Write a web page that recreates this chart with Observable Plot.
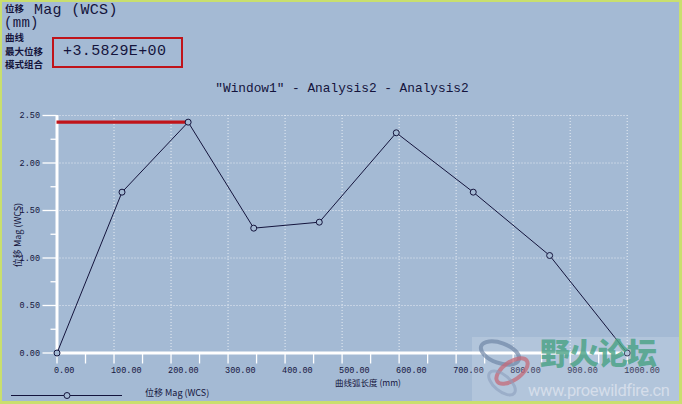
<!DOCTYPE html>
<html>
<head>
<meta charset="utf-8">
<script src="https://cdn.jsdelivr.net/npm/d3@7"></script>
<script src="https://cdn.jsdelivr.net/npm/@observablehq/plot@0.6"></script>
<style>
  html, body { margin: 0; padding: 0; background: #a4bad4; }
  #wrap { position: relative; width: 682px; height: 404px; overflow: hidden; background: #a4bad4; }
  #frame { position: absolute; left: 0; top: 0; width: 682px; height: 404px; box-sizing: border-box;
           border-top: 2px solid #c9df6e; border-left: 2px solid #c9df6e; border-right: 3px solid #c9df6e; border-bottom: 3px solid #c9df6e; pointer-events: none; }
  .t { position: absolute; color: #14143c; white-space: nowrap; line-height: 1; }
  .mono { font-family: "Liberation Mono", "DejaVu Sans Mono", monospace; }
  .cjk { font-family: "Noto Sans CJK SC", sans-serif; font-weight: 700; }
  #chart { position: absolute; left: 0; top: 0; }
</style>
</head>
<body>
<div id="wrap">
  <div id="chart"></div>
</div>
<script>
// ---- data ----
const arcLength = [0, 114, 230, 345, 460, 595, 730, 864, 1000];          // 曲线弧长度 (mm)
const displacement = [0, 1.693, 2.43, 1.314, 1.377, 2.318, 1.693, 1.026, 0]; // 位移 Mag (WCS)
const xTicks = [0, 100, 200, 300, 400, 500, 600, 700, 800, 900, 1000];
const xMinorTicks = [50, 150, 250, 350, 450, 550, 650, 750, 850, 950];
const yTicks = [0, 0.5, 1.0, 1.5, 2.0, 2.5];
const yMinorTicks = [0.25, 0.75, 1.25, 1.75, 2.25];
const chartTitle = '"Window1" - Analysis2 - Analysis2';
const yLabel = "位移 Mag (WCS)";
const xLabel = "曲线弧长度 (mm)";
const legendLabel = "位移 Mag (WCS)";
const headerQuantity = "位移";
const headerSeries = "Mag (WCS)";
const headerUnit = "(mm)";
const headerLines = ["曲线", "最大位移", "模式组合"];
const maxDisplacementText = "+3.5829E+00";

const data = arcLength.map((x, i) => ({x, y: displacement[i]}));
const maxPoint = data.reduce((a, b) => (b.y > a.y ? b : a));

const ink = "#14143c";
const mono = '"Liberation Mono", "DejaVu Sans Mono", monospace';

const chart = Plot.plot({
  width: 682,
  height: 404,
  marginLeft: 56.5,
  marginRight: 55.3,
  marginTop: 115,
  marginBottom: 51.5,
  style: { background: "transparent", fontFamily: mono, fontSize: "8.5px", color: ink, overflow: "visible" },
  x: { domain: [0, 1000] },
  y: { domain: [0, 2.5] },
  marks: [
    Plot.gridX(xTicks.slice(1), { stroke: "white", strokeOpacity: 0.75, strokeDasharray: "1,2" }),
    Plot.gridY(yTicks.slice(1), { stroke: "white", strokeOpacity: 0.75, strokeDasharray: "1,2" }),
    Plot.axisX(xTicks.concat(xMinorTicks), { tickSize: 11, stroke: "white", strokeWidth: 1.3, text: null, label: null }),
    Plot.axisX(xTicks, { tickSize: 0, tickPadding: 14, dx: -3, textAnchor: "start",
      tickFormat: d3.format(".2f"), fill: ink, label: null, fontSize: 8.5 }),
    Plot.axisY(yTicks, { tickSize: 14, stroke: "white", strokeWidth: 1.3, tickPadding: 3,
      tickFormat: d3.format(".2f"), fill: ink, label: null, fontSize: 8.5 }),
    Plot.axisY(yMinorTicks, { tickSize: 6, stroke: "white", strokeWidth: 1.3, text: null, label: null }),
    Plot.ruleY([0], { stroke: "white", strokeWidth: 3 }),
    Plot.ruleX([0], { stroke: "white", strokeWidth: 3 }),
    Plot.ruleY([maxPoint], { y: "y", x1: 0, x2: "x", stroke: "#c0141a", strokeWidth: 3.3 }),
    Plot.line(data, { x: "x", y: "y", stroke: ink, strokeWidth: 1 }),
    Plot.dot(data, { x: "x", y: "y", r: 3, stroke: ink, strokeWidth: 1, fill: "#a4bad4" })
  ]
});
document.getElementById("chart").appendChild(chart);

const wrap = document.getElementById("wrap");
function addText(txt, cls, css) {
  const d = document.createElement("div");
  d.className = "t " + cls;
  d.textContent = txt;
  Object.assign(d.style, css);
  wrap.appendChild(d);
  return d;
}
// header
addText(headerQuantity, "cjk", { left: "5px", top: "4px", fontSize: "9.5px" });
addText(headerSeries, "mono", { left: "34px", top: "3px", fontSize: "15px", letterSpacing: "0.3px" });
addText(headerUnit, "mono", { left: "4px", top: "16px", fontSize: "14px", letterSpacing: "0.3px" });
headerLines.forEach((s, i) => addText(s, "cjk", { left: "5px", top: (33 + i * 13.5) + "px", fontSize: "9.5px" }));
const box = document.createElement("div");
Object.assign(box.style, { position: "absolute", left: "52px", top: "37px", width: "127px", height: "27px",
  border: "2px solid #c0141a" });
wrap.appendChild(box);
addText(maxDisplacementText, "mono", { left: "63px", top: "44px", fontSize: "15px", letterSpacing: "0.4px" });
// title
addText(chartTitle, "mono", { left: "342px", top: "83px", fontSize: "12.8px", transform: "translateX(-50%)" });
// y label
addText(yLabel, "cjk", { left: "17px", top: "235px", fontSize: "9px", fontWeight: "400",
  transform: "translate(-50%,-50%) rotate(-90deg)" });
// x label
addText(xLabel, "cjk", { left: "368px", top: "382px", fontSize: "8.5px", fontWeight: "400",
  transform: "translate(-50%,-50%)" });
// legend
const ns = "http://www.w3.org/2000/svg";
const lg = document.createElementNS(ns, "svg");
lg.setAttribute("width", "120"); lg.setAttribute("height", "10");
Object.assign(lg.style, { position: "absolute", left: "8px", top: "390px" });
const ln = document.createElementNS(ns, "line");
ln.setAttribute("x1", 3); ln.setAttribute("x2", 114); ln.setAttribute("y1", 5.5); ln.setAttribute("y2", 5.5);
ln.setAttribute("stroke", ink);
lg.appendChild(ln);
const cc = document.createElementNS(ns, "circle");
cc.setAttribute("cx", 59); cc.setAttribute("cy", 5.5); cc.setAttribute("r", 3);
cc.setAttribute("stroke", ink); cc.setAttribute("fill", "#a4bad4");
lg.appendChild(cc);
wrap.appendChild(lg);
addText(legendLabel, "cjk", { left: "145px", top: "388px", fontSize: "9px", fontWeight: "400" });

// watermark
const wm = document.createElement("div");
Object.assign(wm.style, { position: "absolute", left: "472px", top: "337px", width: "210px", height: "67px",
  background: "rgba(255,255,255,0.16)" });
wrap.appendChild(wm);
const logo = document.createElementNS(ns, "svg");
logo.setAttribute("width", "70"); logo.setAttribute("height", "67");
Object.assign(logo.style, { position: "absolute", left: "472px", top: "337px" });
logo.innerHTML = '<ellipse cx="28" cy="16" rx="20" ry="10" transform="rotate(20 28 16)" fill="none" stroke="#6f86a6" stroke-width="4" opacity="0.7"/>' +
  '<ellipse cx="40" cy="34" rx="18" ry="9" transform="rotate(-35 40 34)" fill="none" stroke="#c46a78" stroke-width="4" opacity="0.75"/>' +
  '<ellipse cx="30" cy="46" rx="16" ry="8" transform="rotate(40 30 46)" fill="none" stroke="#8c9fbc" stroke-width="3" opacity="0.6"/>';
wrap.appendChild(logo);
addText("野火论坛", "cjk", { left: "540px", top: "336px", fontSize: "30px", color: "rgba(70,160,130,0.8)", fontWeight: "900", letterSpacing: "-1px" });
addText("www.proewildfire.cn", "", { left: "528px", top: "383px", fontSize: "16.5px", color: "rgba(225,230,240,0.75)",
  fontFamily: "Roboto, 'Open Sans', sans-serif", letterSpacing: "-0.4px" });

const fr = document.createElement("div");
fr.id = "frame";
wrap.appendChild(fr);
</script>
</body>
</html>
